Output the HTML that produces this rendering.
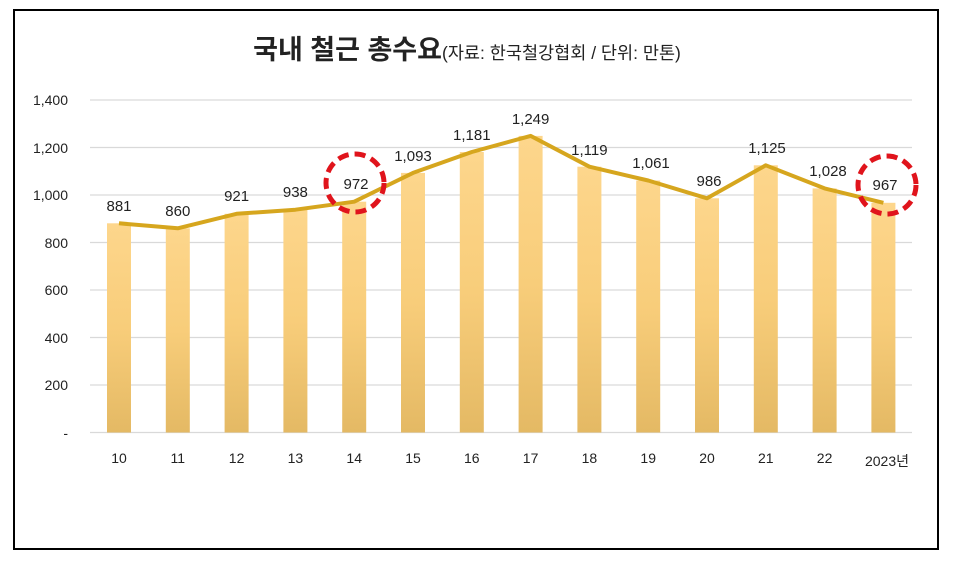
<!DOCTYPE html><html><head><meta charset="utf-8"><style>body{margin:0;background:#fff}svg{display:block}text{font-family:"Liberation Sans","Noto Sans CJK KR",sans-serif;fill:#222}</style></head><body>
<svg width="960" height="572" xmlns="http://www.w3.org/2000/svg">
<defs><linearGradient id="g" x1="0" y1="0" x2="0" y2="1"><stop offset="0" stop-color="#fdd68c"/><stop offset="0.5" stop-color="#f8cd7a"/><stop offset="1" stop-color="#e4b964"/></linearGradient></defs>
<rect x="14" y="10" width="924" height="539" fill="#fff" stroke="#000" stroke-width="2"/>
<text x="442" y="59" text-anchor="end" font-size="27" font-weight="bold">국내 철근 총수요</text>
<text x="442" y="59" font-size="17.5">(자료: 한국철강협회 / 단위: 만톤)</text>
<g stroke="#d9d9d9" stroke-width="1.3">
<line x1="90" x2="912" y1="100" y2="100"/><line x1="90" x2="912" y1="147.5" y2="147.5"/><line x1="90" x2="912" y1="195" y2="195"/><line x1="90" x2="912" y1="242.5" y2="242.5"/><line x1="90" x2="912" y1="290" y2="290"/><line x1="90" x2="912" y1="337.5" y2="337.5"/><line x1="90" x2="912" y1="385" y2="385"/><line x1="90" x2="912" y1="432.5" y2="432.5"/></g>
<g font-size="14" text-anchor="end">
<text x="68" y="105">1,400</text><text x="68" y="153">1,200</text><text x="68" y="200">1,000</text><text x="68" y="248">800</text><text x="68" y="295">600</text><text x="68" y="343">400</text><text x="68" y="390">200</text><text x="68" y="438">-</text></g>
<g fill="url(#g)">
<rect x="107" y="223.3" width="24" height="209.2"/><rect x="165.8" y="228.3" width="24" height="204.2"/><rect x="224.6" y="213.8" width="24" height="218.7"/><rect x="283.4" y="209.7" width="24" height="222.8"/><rect x="342.2" y="201.7" width="24" height="230.8"/><rect x="401" y="172.9" width="24" height="259.6"/><rect x="459.8" y="152" width="24" height="280.5"/><rect x="518.6" y="135.9" width="24" height="296.6"/><rect x="577.4" y="166.7" width="24" height="265.8"/><rect x="636.2" y="180.5" width="24" height="252"/><rect x="695" y="198.3" width="24" height="234.2"/><rect x="753.8" y="165.3" width="24" height="267.2"/><rect x="812.6" y="188.4" width="24" height="244.1"/><rect x="871.4" y="202.8" width="24" height="229.7"/></g>
<polyline fill="none" stroke="#d6a61e" stroke-width="4" stroke-linejoin="round" points="119,223.3 177.8,228.3 236.6,213.8 295.4,209.7 354.2,201.7 413,172.9 471.8,152 530.6,135.9 589.4,166.7 648.2,180.5 707,198.3 765.8,165.3 824.6,188.4 883.4,202.8"/>
<g font-size="15" text-anchor="middle">
<text x="119" y="211">881</text><text x="177.8" y="216">860</text><text x="236.6" y="201">921</text><text x="295.4" y="197">938</text><text x="356" y="189">972</text><text x="413" y="161">1,093</text><text x="471.8" y="140">1,181</text><text x="530.6" y="124">1,249</text><text x="589.4" y="155">1,119</text><text x="651" y="168">1,061</text><text x="709" y="186">986</text><text x="767" y="153">1,125</text><text x="828" y="176">1,028</text><text x="885" y="190">967</text></g>
<g fill="none" stroke="#e0141c" stroke-width="5" stroke-dasharray="11 6">
<circle cx="355" cy="183" r="29"/><circle cx="887" cy="185" r="29"/></g>
<g font-size="14" text-anchor="middle">
<text x="119" y="463">10</text><text x="177.8" y="463">11</text><text x="236.6" y="463">12</text><text x="295.4" y="463">13</text><text x="354.2" y="463">14</text><text x="413" y="463">15</text><text x="471.8" y="463">16</text><text x="530.6" y="463">17</text><text x="589.4" y="463">18</text><text x="648.2" y="463">19</text><text x="707" y="463">20</text><text x="765.8" y="463">21</text><text x="824.6" y="463">22</text><text x="887" y="466">2023년</text></g>
</svg></body></html>
